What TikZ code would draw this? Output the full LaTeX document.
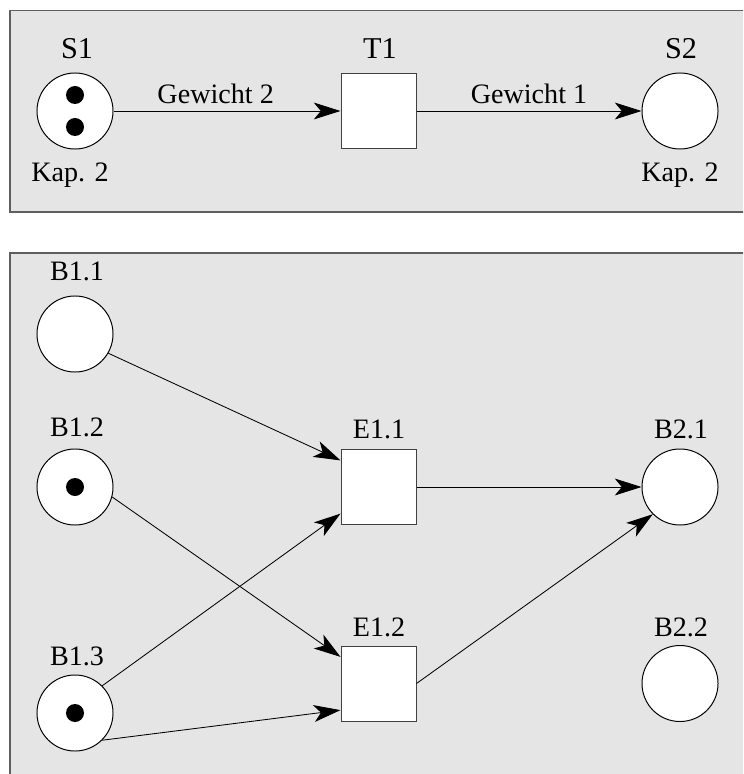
\documentclass[tikz,border=0pt]{standalone}
\usepackage{fontspec}
\setmainfont{Liberation Serif}
\usetikzlibrary{arrows.meta,positioning}
\definecolor{panelgrau}{RGB}{229,229,229}
\definecolor{randgrau}{RGB}{95,95,95}

\begin{document}
\begin{tikzpicture}[x=0.025cm,y=-0.025cm,>={Stealth[length=19pt,width=12pt,inset=5pt]},
  stelle/.style={circle,draw=black,fill=white,line width=0.7pt,minimum size=1.9cm,inner sep=0pt},
  transition/.style={rectangle,draw=black!75,fill=white,line width=0.7pt,minimum size=1.875cm,inner sep=0pt},
  marke/.style={circle,fill=black,minimum size=0.45cm,inner sep=0pt},
  bez/.style={font=\rmfamily\fontsize{20}{24}\selectfont,inner sep=0pt},
  titel/.style={font=\rmfamily\fontsize{21.5}{26}\selectfont,inner sep=0pt},
  kante/.style={->,line width=0.6pt}]

  \clip (0,0) rectangle (743,774);

  %================= Oben: Stellen mit Kapazitaet =================
  \draw[randgrau,line width=1pt,fill=panelgrau] (10,10.5) rectangle (800,212);

  \node[stelle] (s1) at (75,111) {};
  \node[marke] (s1m1) at (75,95) {};
  \node[marke] (s1m2) at (75,127) {};
  \node[transition] (t1) at (378.5,111) {};
  \node[stelle] (s2) at (680,111) {};

  \node[titel] (s1n) at (77,49) {S1};
  \node[titel] (t1n) at (380,49) {T1};
  \node[titel] (s2n) at (681,49) {S2};
  \node[bez] (s1k) at (70,175) {Kap. 2};
  \node[bez] (s2k) at (680,175) {Kap. 2};

  \draw[kante] (s1) -- node[bez,above=5pt,pos=0.45] (g2) {Gewicht 2} (t1);
  \draw[kante] (t1) -- node[bez,above=5pt] (g1) {Gewicht 1} (s2);

  %================= Unten: Bedingungen und Ereignisse =================
  \draw[randgrau,line width=1pt,fill=panelgrau] (10,253) rectangle (800,800);

  % ---- Bedingungen links ----
  \node[stelle] (b11) at (75,334) {};
  \node[stelle] (b12) at (75,487) {};
  \node[marke] (b12m) at (75,487) {};
  \node[stelle] (b13) at (75,713) {};
  \node[marke] (b13m) at (75,713) {};
  \node[bez] (b11n) at (77,271) {B1.1};
  \node[bez] (b12n) at (77,427) {B1.2};
  \node[bez] (b13n) at (77,656) {B1.3};

  % ---- Ereignisse ----
  \node[transition] (e11) at (378.5,487) {};
  \node[transition] (e12) at (378.5,683.5) {};
  \node[bez] (e11n) at (379,429) {E1.1};
  \node[bez] (e12n) at (379,627) {E1.2};

  % ---- Bedingungen rechts ----
  \node[stelle] (b21) at (680,487) {};
  \node[stelle] (b22) at (680,683.5) {};
  \node[bez] (b21n) at (681,429) {B2.1};
  \node[bez] (b22n) at (681,627) {B2.2};

  % ---- Kanten ----
  \draw[kante] (b11.-30) -- (e11.145);
  \draw[kante] (b12.-15) -- (e12.145);
  \draw[kante] (b13.45) -- (e11.215);
  \draw[kante] (b13.-45) -- (e12.215);
  \draw[kante] (e11) -- (b21);
  \draw[kante] (e12.east) -- (b21.225);

\end{tikzpicture}
\end{document}
